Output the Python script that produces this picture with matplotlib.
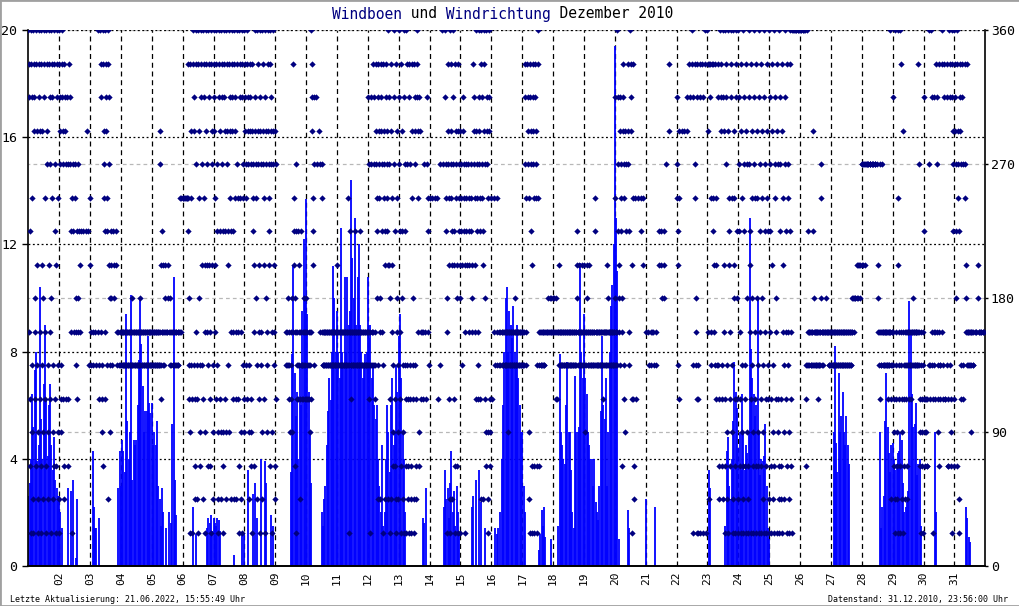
import matplotlib
matplotlib.use('Agg')
import matplotlib.pyplot as plt
from matplotlib.patches import Rectangle

# Windboen (m/s), ein Wert je Stunde, ein Eintrag je Tag (01. bis 31.12.2010)
boeen = [
    [2.6, 3.1, 4.0, 6.4, 5.2, 7.3, 8.0, 3.9, 4.5, 10.4, 5.5, 4.0, 6.8, 9.0, 6.2, 4.1, 6.0, 6.8, 4.5, 3.6, 4.8, 3.2, 2.9, 2.6],
    [2.6, 2.0, 1.4, 0, 0, 0, 0, 2.9, 0, 2.8, 0, 3.2, 0, 0.3, 2.5, 0, 0, 0, 0, 0, 0, 0, 0, 0],
    [0, 0, 4.3, 2.2, 1.4, 1.4, 0, 1.8, 0, 0, 0, 0, 0, 0, 0, 0, 0, 0, 0, 0, 0, 0, 2.9, 4.3],
    [3, 4.7, 4.3, 3.5, 9.4, 5.4, 4, 5, 10.1, 3.2, 4.7, 4.5, 4.7, 6, 7.7, 10, 8.3, 6.7, 5, 5.8, 5.8, 8.6, 6.1, 5.7],
    [6.1, 4.5, 5.0, 4.5, 5.4, 3, 2.5, 1.5, 2.9, 2, 0, 1.4, 0, 2, 0, 1.6, 5.3, 10.8, 3.2, 1.9, 0, 0, 0, 0],
    [0, 0, 0, 0, 0, 0, 0, 0, 2.2, 0, 1.2, 0, 0, 0, 0, 0, 0, 0, 0, 1.4, 1.8, 1.6, 1.9, 1.3],
    [1.8, 1.6, 1.5, 1.8, 1.7, 1.3, 0, 0, 0, 0, 0, 0, 0, 0, 0, 0, 0.4, 0, 0, 0, 0, 0, 1.2, 0],
    [1.2, 0, 0, 3.6, 0, 0, 0, 2.7, 3.1, 0, 1.8, 0, 0, 4.0, 0, 0, 3.9, 3.1, 0, 0, 0, 1.9, 1.5, 0],
    [0, 0, 0, 0, 0, 0, 0, 0, 0, 0, 0, 0, 3.5, 7.9, 11.2, 7.2, 5.6, 6.5, 4, 7.5, 6, 9.5, 12.2, 10],
    [13.7, 9.4, 6.5, 5, 3.1, 0, 0, 0, 0, 0, 0, 0, 2, 1.5, 2.5, 3, 4.5, 5.8, 7, 6.2, 8, 11.2, 10, 8],
    [9.5, 8, 7, 12.6, 8, 7.5, 10.8, 8, 10.8, 9, 9.5, 14.4, 11.5, 10, 13, 9, 10.8, 12, 9, 8, 7, 7.5, 7.9, 8],
    [10.8, 8.5, 9, 7, 7.5, 6, 5.5, 6, 4, 3, 2, 4.5, 1.5, 2, 4, 6, 5, 3.5, 6, 7, 4.5, 5, 7.5, 6.5],
    [8.6, 9.4, 7, 5, 4, 2, 0, 0, 0, 0, 0, 0, 0, 0, 0, 0, 0, 0, 0, 1.8, 1.6, 2.9, 0, 0],
    [0, 0, 0, 0, 0, 0, 0, 0, 0, 0, 0, 2.2, 3.6, 2.5, 2.9, 1.8, 3.1, 4.3, 2, 2.8, 1.5, 3, 2, 1.2],
    [0, 0, 0, 0, 0, 0, 0, 0, 0, 2.2, 2.6, 0, 3.2, 0, 3.6, 0, 2.4, 0, 0, 1.4, 0, 0, 0, 0],
    [0, 0, 0, 1.4, 1.2, 1.4, 0, 2, 4, 6, 8, 10, 10.4, 8, 9.5, 9, 8.5, 9.7, 8, 7.5, 9, 7, 6, 5],
    [5, 3, 2, 0, 0, 0, 0, 0, 0, 0, 0, 0, 0, 0.6, 1.2, 2.1, 1.5, 2.2, 1.1, 0, 0, 0, 1.0, 0],
    [0, 0, 0, 0, 1.5, 7.9, 5, 4.5, 4, 3.8, 6, 7.6, 5, 5, 3.6, 2, 1.4, 7.1, 5, 5, 5.2, 11.3, 8, 7],
    [9.4, 7, 6.4, 5, 4.5, 4, 4, 3, 4, 2.4, 2, 1.7, 3, 5.8, 8.6, 6, 5.5, 7, 3, 5, 8, 9.7, 10.5, 12],
    [19.4, 13, 11, 1, 0, 0, 0, 0, 0, 0, 2.1, 1.4, 0, 0, 0, 0, 0, 0, 0, 0, 0, 0, 0, 0],
    [2.5, 0, 0, 0, 0, 0, 0, 2.2, 0, 0, 0, 0, 0, 0, 0, 0, 0, 0, 0, 0, 0, 0, 0, 0],
    [0, 0, 0, 0, 0, 0, 0, 0, 0, 0, 0, 0, 0, 0, 0, 0, 0, 0, 0, 0, 0, 0, 0, 0],
    [0, 3.6, 2.9, 0, 0, 0, 0, 0, 0, 0, 0, 0, 0, 0, 1.5, 4.3, 4.8, 3, 2.5, 4, 5.4, 7.6, 6.5, 5.9],
    [4.4, 5, 3.6, 6.4, 5, 3.6, 4.5, 4.2, 5, 13, 8.1, 7, 6.4, 5.6, 6, 10, 5, 3.4, 4, 3.9, 4.1, 5.3, 3, 1.4],
    [1.0, 0, 0, 0, 0, 0, 0, 0, 0, 0, 0, 0, 0, 0, 0, 0, 0, 0, 0, 0, 0, 0, 0, 0],
    [0, 0, 0, 0, 0, 0, 0, 0, 0, 0, 0, 0, 0, 0, 0, 0, 0, 0, 0, 0, 0, 0, 0, 0],
    [0, 0, 5, 8.2, 4.6, 3.5, 7.2, 5, 5.6, 6.5, 5, 4.5, 5.6, 4.5, 3.8, 0, 0, 0, 0, 0, 0, 0, 0, 0],
    [0, 0, 0, 0, 0, 0, 0, 0, 0, 0, 0, 0, 0, 0, 5, 1.4, 2.2, 2.6, 5.4, 7.2, 5.2, 4.2, 3.5, 4.5],
    [4.6, 4, 3.6, 3.8, 4.2, 4.3, 5, 4.7, 3.1, 2, 2.2, 2.4, 2.8, 9.9, 8.7, 6.4, 5.2, 5.3, 6.1, 3.4, 3.8, 4, 1.5, 0],
    [0, 0, 0, 0, 0, 0, 0, 0, 0, 5, 2, 0, 0, 0, 0, 0, 0, 0, 0, 0, 0, 0, 0, 0],
    [0, 0, 0, 0, 0, 0, 0, 0, 0, 2.2, 1.8, 1.1, 0.9, 0, 0, 0, 0, 0, 0, 0, 0, 0, 0, 0],
]

# Windrichtung: je Tag 12 Bloecke zu 2 h, je Zeichen ein Messwert (15 min)
# '1'..'9','a'..'g' = Sektor 1..16 (x 22.5 Grad), '.' = kein Wert
richtung = [
    "gfe7a531 gfeb6421 gfed8753 gfd96421 gfed7531 gfd96428 gfeb7531 gfdc6429 gfec7581 gfeb6423 gfca5391 gfeb6421",
    "gfedc654 gfedc532 fe.dc.5. e.c.53.. fe.ca7.1 .b.ca7.. b.c8765a .c8.7a.. 9.7.a... ..a..... ..a..... d.a..6..",
    "b97.6... 7.6..... 76...... g7.6.5.. gfe76543 gfdcba75 gfedba62 gfec9864 a986.... a98..... a9.7.6.. 7.6.7.6.",
    "76767676 76767676 76767676 76767676 7676876. 76767676 76767676 767687.. 76767676 76767676 76767676 76767676",
    "76767676 76767676 76767676 7dc69567 7a69767. 798.7.7. 798.7... 7867.6.. 767676.. 767676.. 7676.7.. 7b.7b...",
    "b.b.b... b.b.b.b. fba86541 fbd65.1. gfed6532 gfc76521 gfdb8643 gfec9652 gfeb9741 gfdc9763 gfe97531 gfdc9642",
    "gfedb975 gfca6421 gfed5a42 gfeca431 gfeda542 gfdc9a64 gfedb7a2 gfeda752 gfedb752 gfcb7531 gfeb7421 gfecb654",
    "gfedcb65 gfedc642 fedc5431 fdcba973 gedcb862 gfdc9751 gedc7642 gfdcb951 gedc8764 gfdcba93 gfedc741 gdc97632",
    "dc5..... ........ ........ ........ 76.7.6.. 867654.. 76548.7. fba98731 c7a65765 a9762576 a7656576 8765.765",
    "8765765. 76547657 gfedba96 ec...... e.c..... d.c.7... cb767676 76767676 76767676 76767676 76767676 76767676",
    "9767676. 76767676 76767676 76767676 7b761767 7a657676 76767676 7a767676 76767676 7a767676 76767676 76767676",
    "7ec65716 7e6c7676 7fec6576 fdcba862 fedcb872 fedca716 fdcba92. fedcba92 gec98512 fdb97643 geca5321 fdb87642",
    "geca7531 fda86421 geca6531 gfc65321 fec65321 fdb86521 fedc6532 gfedb743 e.d.7.5. 7.5.7... c.7.5... ecba76..",
    "b....... b....... b....... b.5..... c6...... gc...... gecba871 fdcb9521 gfdcba92 geca9531 fdcb9831 fdcba981",
    "dcba96.. edcba971 cba9.... cba97... cba987.. fedcb975 gdcba765 gedcba52 gfecba92 gfdc8543 gedcb421 ged543..",
    "b5...... b7.6.... b76..... 7676.... 767676.. 76767676 76764767 76767676 76767676 76876767 76767676 76767676",
    "767676.. fecb76.. fedcb421 fedca931 fedcb31. fedcb631 gfb637.. 767676.. 767676.. 7.7.7.7. 87.7.8.7 87.7.7.7",
    "878.7.7. 87575.7. 79767676 76767676 76767676 76767676 76767676 76767676 76767676 7a987676 79767676 79767676",
    "79476767 79867676 79767676 76767676 7ba67676 76767676 76767676 76576767 76767676 79876767 76767676 76767676",
    "eb876767 geca9876 edcba873 fedcb654 d.c.a... fdca76.. gfed951. fb532... b5...... b....... ba...... b9......",
    "7....... 76...... 767..... 76...... 76...... a9...... a98..... a98..... c....... fd...... ........ ........",
    "ecba965. bd...... d....... d....... ed...... fe...... gfe61... fcb87651 fe651... fe1..... fe1..... gf1.....",
    "gfd72.f. feb76.f. fba97.6. fb95.6.. fe6532.. gfed6532 ged97531 gfec6421 gdba9753 gfeb6421 gdb98531 gfea8521",
    "geca7531 fdb64231 geca6531 fdc84231 geca9751 fdb86431 gecb7531 fdb86431 geca7531 fdb86421 geca7531 fdba6521",
    "geca7531 fd964231 gecb8751 fdc54321 geca5321 fdb97642 geca7531 fcb76421 gfa7531. g.g.g... g.g.g... g.g.g...",
    "g.g.g... g.g.g... g6536.g. a76767.. 76767676 da876767 76767676 75676767 cb876767 7.7.7.7. 87.7.7.7 76767676",
    "76767676 76767676 76767676 76767676 76767676 76767676 76767676 76767676 87.7.8.7 8.8.8... 98.9.8.. 98.9....",
    "c9c9c... c9c.c... cccc.... cccc.... cccc.... ccc..... c98767.. c576767. c7676767 76767676 76576767 g7652767",
    "e7654321 g7654321 gb976531 gf765421 d7653267 76532767 76567676 76576767 87676767 76767676 fc765431 76543176",
    "ea5435.. 54353... gc656... ge7651.. e7657... fec76543 f7656... gf765... fe5.5... fe6353.. gfe65431 gfedca53",
    "gfedca83 gfdcba21 fedc65.. fec65... fcb98767 f76767.. 764767.. 7676.... 7.7.7... 98.7.7.. 7.7.7... 7.7.7...",
]

tage = ['%02d' % d for d in range(2, 32)]

#%% Zeitachsen aufbauen (x = Tag im Dezember, 1.0 = 01.12. 00:00)

t_b, v_b = [], []
for i, tag in enumerate(boeen):
    for h, v in enumerate(tag):
        if v > 0:
            t_b.append(1 + i + h / 24.)
            v_b.append(v)

t_r, v_r = [], []
for i, s in enumerate(richtung):
    bloecke = s.split()
    for b, blk in enumerate(bloecke):
        for k, c in enumerate(blk):
            if c != '.':
                t_r.append(1 + i + (b + k / len(blk)) / len(bloecke))
                v_r.append(int(c, 36) * 22.5)

#%% Plot

mono = 'DejaVu Sans Mono'
W, H = 1020., 606.

fig = plt.figure(figsize=(10.2, 6.06), dpi=100)
ax = fig.add_axes([28.3 / W, 40 / H, 957 / W, 536 / H])
ax2 = ax.twinx()

ax.set_xlim(1, 32)
ax.set_ylim(0, 20)
ax2.set_ylim(0, 360)

# Gitter
for d in range(2, 32):
    ax.axvline(d, color='black', lw=0.9, ls=(0, (4, 3)), zorder=0.5)
for y in [4, 8, 12, 16, 20]:
    ax.axhline(y, color='black', lw=0.9, ls=(0, (1.5, 2)), zorder=0.6)
for y in [5, 10, 15, 20]:
    ax.axhline(y, color='#b8b8b8', lw=0.9, ls=(1.5, (3, 2.5)), zorder=0.5)

ax.vlines(t_b, 0, v_b, color='#0000ff', lw=1.3, zorder=2)
ax2.plot(t_r, v_r, ls='none', marker='D', ms=3.2, mew=0, color='#000080', zorder=3)

for a in (ax, ax2):
    a.spines['top'].set_visible(False)
    for sp in a.spines.values():
        sp.set_linewidth(1.2)
ax.spines['right'].set_visible(False)
ax2.spines['left'].set_visible(False)

ax.set_xticks(range(2, 32))
ax.set_xticklabels(tage, rotation=90, fontsize=8, family=mono)
ax.tick_params(axis='x', length=0, pad=4)
ax.set_yticks([0, 4, 8, 12, 16, 20])
ax.set_yticklabels(['0', '4', '8', '12', '16', '20'], fontsize=9.5, family=mono)
ax.tick_params(axis='y', length=4, width=1, pad=4)
ax2.set_yticks([0, 90, 180, 270, 360])
ax2.set_yticklabels(['0', '90', '180', '270', '360'], fontsize=9.5, family=mono)
ax2.tick_params(axis='y', length=2, width=1, pad=2)

# Titel, einfarbige Teile ueber Leerzeichen ausgerichtet (Monospace)
ty = 1 - 18.5 / H
fig.text(332 / W, ty, 'Windboen     Windrichtung              ',
         color='#000080', fontsize=10.5, family=mono, ha='left', va='baseline')
fig.text(332 / W, ty, '         und              Dezember 2010',
         color='black', fontsize=10.5, family=mono, ha='left', va='baseline')

fig.text(10 / W, 4 / H, 'Letzte Aktualisierung: 21.06.2022, 15:55:49 Uhr',
         fontsize=6, family=mono, ha='left', va='baseline')
fig.text(1008 / W, 4 / H, 'Datenstand: 31.12.2010, 23:56:00 Uhr',
         fontsize=6, family=mono, ha='right', va='baseline')

fig.patches.append(Rectangle((0, 0), 1, 1, transform=fig.transFigure, fill=False,
                             edgecolor='#a0a0a0', lw=2))

fig.savefig('out.png', dpi=100)
